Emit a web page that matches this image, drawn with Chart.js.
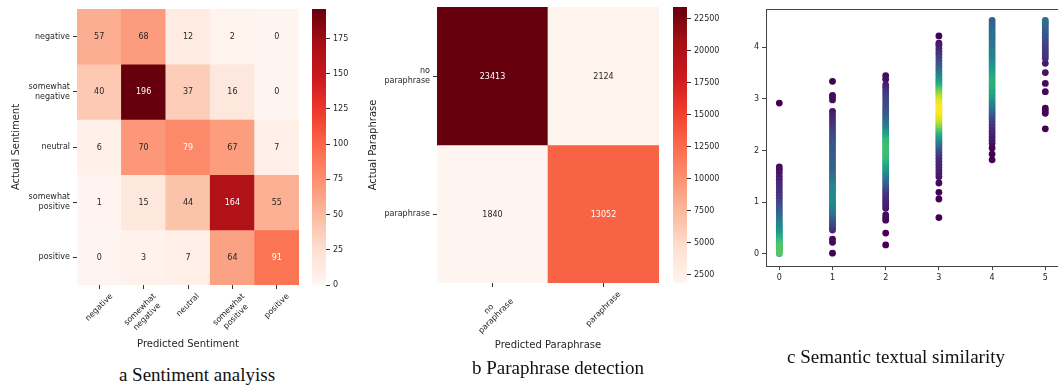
<!DOCTYPE html>
<html><head><meta charset="utf-8">
<script src="https://cdn.jsdelivr.net/npm/chart.js@4.4.1/dist/chart.umd.min.js"></script>
<style>
html,body{margin:0;padding:0;background:#fff;overflow:hidden;width:1058px;height:386px;position:relative;}
canvas{position:absolute;}
.cap{position:absolute;font-family:"Liberation Serif","Times New Roman",serif;font-size:19px;line-height:20px;color:#111;text-align:center;white-space:nowrap;width:300px;}
</style></head><body>
<canvas id="hmA" width="305" height="352" style="left:0px;top:0px"></canvas>
<canvas id="cbA" width="55" height="300" style="left:305px;top:0px"></canvas>
<canvas id="hmB" width="305" height="353" style="left:360px;top:-1px"></canvas>
<canvas id="cbB" width="62" height="300" style="left:665px;top:-1px"></canvas>
<canvas id="sts" width="342" height="290" style="left:720px;top:0px"></canvas>
<div class="cap" style="left:47px;top:365px">a Sentiment analyiss</div>
<div class="cap" style="left:408px;top:358px">b Paraphrase detection</div>
<div class="cap" style="left:746px;top:347px">c Semantic textual similarity</div>
<script>
// ---------------- DATA ----------------
const sentimentLabels = ['negative', ['somewhat', 'negative'], 'neutral', ['somewhat', 'positive'], 'positive'];
const sentimentMatrix = [
  [57, 68, 12, 2, 0],
  [40, 196, 37, 16, 0],
  [6, 70, 79, 67, 7],
  [1, 15, 44, 164, 55],
  [0, 3, 7, 64, 91]
];
const sentimentCbarTicks = [0, 25, 50, 75, 100, 125, 150, 175];

const paraphraseLabels = [['no', 'paraphrase'], 'paraphrase'];
const paraphraseMatrix = [
  [23413, 2124],
  [1840, 13052]
];
const paraphraseCbarTicks = [2500, 5000, 7500, 10000, 12500, 15000, 17500, 20000, 22500];

const stsXTicks = [0, 1, 2, 3, 4, 5];
const stsYTicks = [0, 1, 2, 3, 4];
// each column: [predicted score, relative point density]
const stsCol0 = [[0.00,0.70],[0.02,0.72],[0.04,0.73],[0.06,0.73],[0.08,0.73],[0.10,0.73],[0.12,0.72],[0.14,0.72],[0.16,0.71],[0.18,0.70],[0.20,0.69],[0.23,0.67],[0.26,0.65],[0.29,0.62],[0.32,0.60],[0.35,0.57],[0.39,0.54],[0.43,0.51],[0.47,0.48],[0.51,0.46],[0.55,0.44],[0.59,0.42],[0.64,0.40],[0.69,0.37],[0.74,0.34],[0.79,0.31],[0.84,0.28],[0.89,0.25],[0.95,0.22],[1.01,0.19],[1.07,0.17],[1.13,0.15],[1.19,0.14],[1.25,0.13],[1.31,0.12],[1.37,0.10],[1.44,0.08],[1.50,0.07],[1.57,0.05],[1.63,0.04],[1.68,0.03],[2.92,0.00]];
const stsCol1 = [[0.01,0.00],[0.22,0.02],[0.28,0.02],[0.46,0.10],[0.50,0.13],[0.54,0.16],[0.58,0.19],[0.62,0.22],[0.66,0.25],[0.70,0.28],[0.74,0.31],[0.78,0.34],[0.82,0.37],[0.86,0.40],[0.90,0.42],[0.94,0.44],[0.98,0.45],[1.02,0.46],[1.06,0.47],[1.10,0.47],[1.14,0.47],[1.18,0.47],[1.22,0.46],[1.26,0.45],[1.30,0.44],[1.34,0.43],[1.38,0.41],[1.42,0.40],[1.46,0.38],[1.50,0.36],[1.55,0.34],[1.60,0.33],[1.65,0.32],[1.70,0.31],[1.75,0.30],[1.80,0.30],[1.85,0.29],[1.90,0.29],[1.95,0.28],[2.00,0.27],[2.05,0.27],[2.10,0.26],[2.15,0.25],[2.20,0.24],[2.25,0.23],[2.30,0.22],[2.35,0.20],[2.40,0.18],[2.46,0.16],[2.52,0.14],[2.58,0.12],[2.64,0.10],[2.70,0.08],[2.76,0.06],[2.98,0.03],[3.03,0.03],[3.07,0.02],[3.34,0.00]];
const stsCol2 = [[0.17,0.00],[0.40,0.00],[0.65,0.02],[0.70,0.02],[0.75,0.03],[0.88,0.06],[0.93,0.07],[0.98,0.08],[1.03,0.09],[1.08,0.10],[1.13,0.12],[1.18,0.14],[1.23,0.17],[1.28,0.21],[1.33,0.25],[1.38,0.29],[1.43,0.33],[1.48,0.37],[1.53,0.41],[1.58,0.45],[1.63,0.49],[1.68,0.53],[1.72,0.56],[1.76,0.59],[1.80,0.62],[1.84,0.64],[1.88,0.66],[1.92,0.67],[1.96,0.68],[2.00,0.69],[2.04,0.69],[2.08,0.69],[2.12,0.68],[2.16,0.67],[2.20,0.65],[2.24,0.62],[2.28,0.58],[2.32,0.54],[2.36,0.50],[2.40,0.46],[2.45,0.42],[2.50,0.38],[2.55,0.35],[2.60,0.32],[2.65,0.29],[2.70,0.27],[2.75,0.25],[2.80,0.23],[2.86,0.22],[2.92,0.21],[2.98,0.20],[3.04,0.18],[3.10,0.16],[3.16,0.13],[3.22,0.10],[3.27,0.08],[3.38,0.04],[3.45,0.03]];
const stsCol3 = [[0.70,0.00],[1.06,0.00],[1.19,0.00],[1.37,0.02],[1.49,0.06],[1.55,0.07],[1.61,0.08],[1.67,0.09],[1.73,0.10],[1.79,0.11],[1.85,0.12],[1.91,0.14],[1.96,0.17],[2.01,0.21],[2.06,0.26],[2.10,0.31],[2.14,0.36],[2.18,0.41],[2.22,0.46],[2.26,0.51],[2.30,0.56],[2.34,0.61],[2.38,0.66],[2.42,0.71],[2.46,0.76],[2.50,0.81],[2.54,0.85],[2.58,0.89],[2.62,0.92],[2.66,0.95],[2.70,0.97],[2.74,0.99],[2.78,1.00],[2.82,1.00],[2.86,0.99],[2.90,0.98],[2.94,0.96],[2.98,0.93],[3.02,0.90],[3.06,0.86],[3.10,0.82],[3.14,0.77],[3.18,0.72],[3.22,0.67],[3.26,0.62],[3.30,0.57],[3.34,0.53],[3.38,0.49],[3.43,0.45],[3.48,0.41],[3.53,0.37],[3.58,0.33],[3.63,0.29],[3.68,0.25],[3.74,0.21],[3.80,0.18],[3.86,0.15],[3.92,0.12],[3.98,0.09],[4.04,0.07],[4.08,0.05],[4.22,0.00]];
const stsCol4 = [[1.82,0.00],[1.93,0.00],[2.05,0.01],[2.14,0.03],[2.20,0.06],[2.26,0.07],[2.32,0.08],[2.38,0.10],[2.44,0.12],[2.50,0.14],[2.56,0.17],[2.62,0.20],[2.67,0.23],[2.72,0.27],[2.77,0.31],[2.82,0.35],[2.87,0.39],[2.92,0.43],[2.97,0.47],[3.02,0.51],[3.07,0.54],[3.12,0.57],[3.17,0.59],[3.22,0.61],[3.27,0.62],[3.32,0.63],[3.37,0.62],[3.42,0.61],[3.47,0.59],[3.52,0.57],[3.57,0.54],[3.62,0.51],[3.67,0.49],[3.72,0.47],[3.77,0.45],[3.82,0.44],[3.87,0.43],[3.92,0.42],[3.97,0.41],[4.02,0.40],[4.07,0.39],[4.12,0.38],[4.17,0.37],[4.22,0.36],[4.27,0.35],[4.32,0.34],[4.37,0.33],[4.42,0.32],[4.47,0.31],[4.52,0.30]];
const stsCol5 = [[2.42,0.00],[2.72,0.01],[2.77,0.01],[2.82,0.01],[3.14,0.02],[3.30,0.03],[3.51,0.05],[3.69,0.07],[3.79,0.12],[3.84,0.14],[3.89,0.15],[3.94,0.16],[3.99,0.17],[4.04,0.18],[4.09,0.19],[4.14,0.21],[4.19,0.23],[4.24,0.25],[4.29,0.27],[4.34,0.29],[4.39,0.31],[4.44,0.33],[4.48,0.35],[4.52,0.36]];
const stsColumns = [stsCol0, stsCol1, stsCol2, stsCol3, stsCol4, stsCol5];

// ---------------- STYLE HELPERS ----------------
const FONT = "'DejaVu Sans', 'Liberation Sans', sans-serif";
const TXT = '#262626';
const REDS = ['#fff5f0','#fee0d2','#fcbba1','#fc9272','#fb6a4a','#ef3b2c','#cb181d','#a50f15','#67000d'];
const VIRIDIS = ['#440154','#482475','#414487','#355f8d','#2a788e','#21918c','#22a884','#44bf70','#7ad151','#bddf26','#fde725'];
function hexRgb(h){return [1,3,5].map(i=>parseInt(h.substr(i,2),16));}
function cmap(stops,t){t=Math.max(0,Math.min(1,t));const n=stops.length-1;const i=Math.min(n-1,Math.floor(t*n));const f=t*n-i;const a=hexRgb(stops[i]),b=hexRgb(stops[i+1]);return a.map((x,k)=>Math.round(x+(b[k]-x)*f));}
function rgbStr(c){return 'rgb('+c.join(',')+')';}
function lum(c){const l=c.map(v=>{v/=255;return v<=0.03928?v/12.92:Math.pow((v+0.055)/1.055,2.4);});return 0.2126*l[0]+0.7152*l[1]+0.0722*l[2];}

const cellText = {
  id: 'cellText',
  afterDatasetsDraw(chart) {
    const ctx = chart.ctx;
    ctx.save();
    ctx.font = '8px ' + FONT;
    ctx.textAlign = 'center'; ctx.textBaseline = 'middle';
    chart.data.datasets.forEach((ds, di) => {
      chart.getDatasetMeta(di).data.forEach((el, ci) => {
        const c = el.getCenterPoint();
        ctx.fillStyle = ds.textColors[ci];
        ctx.fillText(String(ds.counts[ci]), c.x, c.y + 0.5);
      });
    });
    ctx.restore();
  }
};

const rotX = {
  id: 'rotX',
  afterDraw(chart, args, opts) {
    const sc = chart.scales.x, ctx = chart.ctx, lh = 10;
    ctx.save();
    ctx.font = '8px ' + FONT;
    ctx.fillStyle = TXT;
    ctx.textAlign = 'center'; ctx.textBaseline = 'middle';
    chart.data.labels.forEach((lab, i) => {
      const lines = [].concat(lab);
      const w = Math.max(...lines.map(l => ctx.measureText(l).width));
      const h = lines.length * lh;
      const s = (w + h) * Math.SQRT1_2;
      const cx = sc.getPixelForTick(i);
      const cy = chart.chartArea.bottom + opts.gap + s / 2;
      ctx.save();
      ctx.translate(cx, cy);
      ctx.rotate(-Math.PI / 4);
      lines.forEach((l, k) => ctx.fillText(l, 0, (k - (lines.length - 1) / 2) * lh));
      ctx.restore();
    });
    ctx.restore();
  }
};

function heatmap(id, labels, matrix, o) {
  const flat = matrix.flat();
  const vmin = Math.min(...flat), vmax = Math.max(...flat);
  const col = v => cmap(REDS, (v - vmin) / (vmax - vmin));
  const datasets = matrix.map((row, r) => ({
    data: row.map(() => [r - 0.5, r + 0.5]),
    counts: row,
    backgroundColor: row.map(v => rgbStr(col(v))),
    textColors: row.map(v => lum(col(v)) > 0.408 ? TXT : '#ffffff'),
    borderWidth: 0, barPercentage: 1, categoryPercentage: 1, grouped: false
  }));
  const tickGrid = {drawOnChartArea: false, drawTicks: true, tickLength: 4, color: '#333', lineWidth: 1};
  new Chart(document.getElementById(id), {
    type: 'bar',
    data: {labels: labels, datasets: datasets},
    options: {
      responsive: false, animation: false, events: [],
      layout: {padding: {left: 0, top: o.top, right: 6, bottom: 0}},
      plugins: {legend: {display: false}, tooltip: {enabled: false}, rotX: {gap: 6.5}},
      scales: {
        x: {
          type: 'category', offset: true,
          grid: Object.assign({offset: false}, tickGrid),
          border: {display: false},
          ticks: {display: false},
          title: {display: true, text: o.xTitle, color: TXT, font: {family: FONT, size: 10}, padding: {top: 0, bottom: o.xTitlePad}},
          afterFit: s => { s.height = o.xAxisH; }
        },
        y: {
          type: 'linear', reverse: true, min: -0.5, max: labels.length - 0.5,
          afterBuildTicks: s => { s.ticks = labels.map((_, i) => ({value: i})); },
          ticks: {callback: v => labels[v], color: TXT, font: {family: FONT, size: 8, lineHeight: 1.25}, padding: 3},
          grid: tickGrid,
          border: {display: false},
          title: {display: true, text: o.yTitle, color: TXT, font: {family: FONT, size: 10}, padding: {top: o.yTitlePad, bottom: 0}},
          afterFit: s => { s.width = 77; }
        }
      }
    },
    plugins: [cellText, rotX]
  });
  return [vmin, vmax];
}

function colorbar(id, vmin, vmax, ticks, o) {
  new Chart(document.getElementById(id), {
    type: 'bar',
    data: {labels: [''], datasets: [{
      data: [[vmin, vmax]],
      backgroundColor: ctx => {
        const ca = ctx.chart.chartArea;
        if (!ca) return REDS[4];
        const ys = ctx.chart.scales.y;
        const g = ctx.chart.ctx.createLinearGradient(0, ys.getPixelForValue(vmin), 0, ys.getPixelForValue(vmax));
        REDS.forEach((c, i) => g.addColorStop(i / (REDS.length - 1), c));
        return g;
      },
      borderWidth: 0, barPercentage: 1, categoryPercentage: 1
    }]},
    options: {
      responsive: false, animation: false, events: [],
      layout: {padding: {left: o.left, top: o.top, right: 0, bottom: o.bottom}},
      plugins: {legend: {display: false}, tooltip: {enabled: false}},
      scales: {
        x: {display: false},
        y: {
          position: 'right', min: vmin, max: vmax,
          afterBuildTicks: s => { s.ticks = ticks.map(v => ({value: v})); },
          ticks: {callback: v => String(v), color: TXT, font: {family: FONT, size: 8}, padding: 3},
          grid: {drawOnChartArea: false, drawTicks: true, tickLength: 4, color: '#333'},
          border: {display: false},
          afterFit: s => { s.width = o.axisW; }
        }
      }
    }
  });
}

// ---------------- PANEL A ----------------
const rA = heatmap('hmA', sentimentLabels, sentimentMatrix,
  {top: 9, xAxisH: 67, xTitle: 'Predicted Sentiment', yTitle: 'Actual Sentiment', xTitlePad: 2, yTitlePad: 10});
colorbar('cbA', rA[0], rA[1], sentimentCbarTicks, {left: 7, top: 9, bottom: 15, axisW: 34});

// ---------------- PANEL B ----------------
const rB = heatmap('hmB', paraphraseLabels, paraphraseMatrix,
  {top: 8, xAxisH: 69, xTitle: 'Predicted Paraphrase', yTitle: 'Actual Paraphrase', xTitlePad: 1, yTitlePad: 7});
colorbar('cbB', rB[0], rB[1], paraphraseCbarTicks, {left: 8, top: 8, bottom: 16, axisW: 40});

// ---------------- PANEL C ----------------
const pts = [];
stsColumns.forEach((colPts, xi) => colPts.forEach(p => pts.push({x: stsXTicks[xi], y: p[0], d: p[1]})));
pts.sort((a, b) => a.d - b.d);
const frame = {
  id: 'frame',
  afterDatasetsDraw(chart) {
    const {ctx, chartArea: a} = chart;
    ctx.save();
    ctx.strokeStyle = '#444'; ctx.lineWidth = 1;
    ctx.strokeRect(Math.round(a.left) + 0.5, Math.round(a.top) + 0.5, Math.round(a.right - a.left), Math.round(a.bottom - a.top));
    ctx.restore();
  }
};
const axisTick = {drawOnChartArea: false, drawTicks: true, tickLength: 4, color: '#444'};
new Chart(document.getElementById('sts'), {
  type: 'scatter',
  data: {datasets: [{
    data: pts.map(p => ({x: p.x, y: p.y})),
    pointBackgroundColor: pts.map(p => rgbStr(cmap(VIRIDIS, p.d))),
    pointBorderWidth: 0, pointRadius: 3.4, pointHoverRadius: 3.4
  }]},
  options: {
    responsive: false, animation: false, events: [],
    layout: {padding: {left: 0, top: 9, right: 0, bottom: 0}},
    plugins: {legend: {display: false}, tooltip: {enabled: false}},
    scales: {
      x: {
        type: 'linear', min: -0.25, max: 5.25,
        afterBuildTicks: s => { s.ticks = stsXTicks.map(v => ({value: v})); },
        ticks: {color: TXT, font: {family: FONT, size: 8}, padding: 3},
        grid: axisTick, border: {display: false},
        afterFit: s => { s.height = 24; }
      },
      y: {
        type: 'linear', min: -0.238, max: 4.742,
        afterBuildTicks: s => { s.ticks = stsYTicks.map(v => ({value: v})); },
        ticks: {color: TXT, font: {family: FONT, size: 8}, padding: 3},
        grid: axisTick, border: {display: false},
        afterFit: s => { s.width = 46; }
      }
    }
  },
  plugins: [frame]
});
</script>
</body></html>
